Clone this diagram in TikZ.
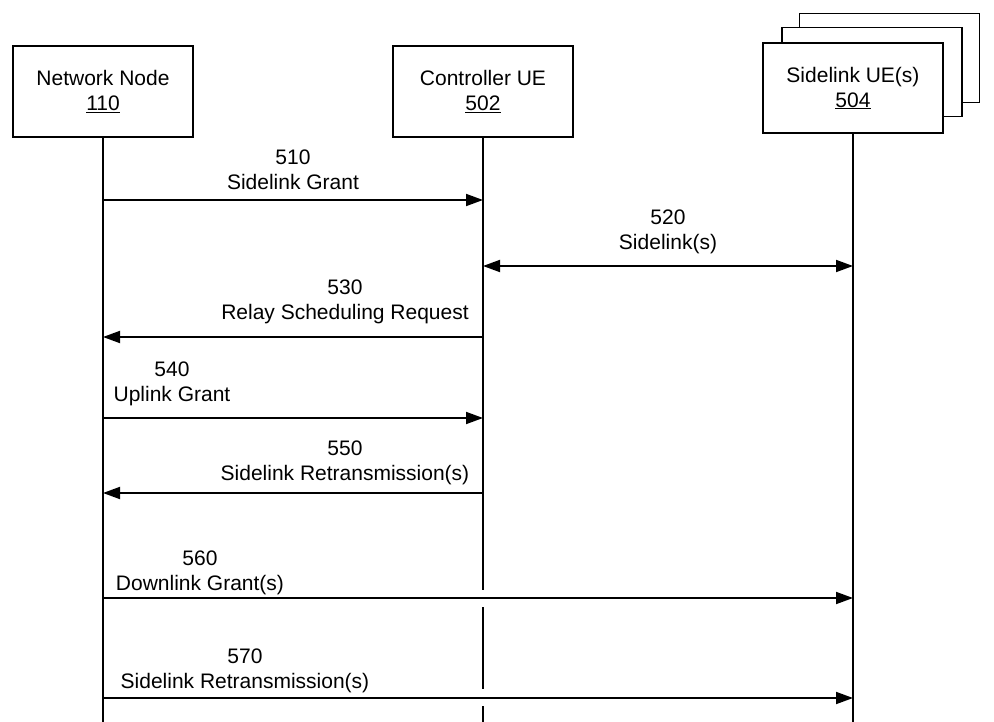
\documentclass[tikz,border=0pt]{standalone}
\usepackage{fontspec}
\setmainfont{Liberation Sans}
\usetikzlibrary{arrows.meta}
\begin{document}
\begin{tikzpicture}[x=1pt,y=-1pt,line width=1.8pt,
  box/.style={draw,fill=white,minimum width=180pt,minimum height=91pt,inner sep=0pt,align=center,font=\fontsize{21}{25}\selectfont},
  shadowbox/.style={draw,fill=white,minimum width=180pt,minimum height=89pt,inner sep=0pt},
  lbl/.style={align=center,inner sep=0pt,font=\fontsize{21}{25}\selectfont},
  msg/.style={-{Triangle[length=17pt,width=12pt]}},
  dmsg/.style={{Triangle[length=17pt,width=12pt]}-{Triangle[length=17pt,width=12pt]}},
  life/.style={line width=2pt}]
\useasboundingbox (0,0) rectangle (994,722);
% participant boxes
\node[box] (nn) at (103,91.5) {Network Node\\\underline{110}};
\node[box] (cue) at (483,91.5) {Controller UE\\\underline{502}};
\node[shadowbox] (sb3) at (889.5,58) {};
\node[shadowbox] (sb2) at (872,72) {};
\node[box,minimum height=90pt] (sue) at (853,88) {Sidelink UE(s)\\\underline{504}};
% lifeline ends
\coordinate (nnend) at (103,722);
\coordinate (sueend) at (853,722);
\coordinate (cueend) at (483,722);
% message points
\coordinate (nn510) at (103,200);  \coordinate (cue510) at (483,200);
\coordinate (cue520) at (483,266); \coordinate (sue520) at (853,266);
\coordinate (cue530) at (483,337); \coordinate (nn530) at (103,337);
\coordinate (nn540) at (103,418);  \coordinate (cue540) at (483,418);
\coordinate (cue550) at (483,493); \coordinate (nn550) at (103,493);
\coordinate (nn560) at (103,598);  \coordinate (sue560) at (853,598);
\coordinate (nn570) at (103,698);  \coordinate (sue570) at (853,698);
\coordinate (g1a) at (483,590); \coordinate (g1b) at (483,607);
\coordinate (g2a) at (483,689); \coordinate (g2b) at (483,706);
% lifelines
\draw[life] (nn.south) -- (nnend);
\draw[life] (sue.south) -- (sueend);
\draw[life] (cue.south) -- (g1a);
\draw[life] (g1b) -- (g2a);
\draw[life] (g2b) -- (cueend);
% messages
\draw[msg] (nn510) -- (cue510);
\draw[dmsg] (cue520) -- (sue520);
\draw[msg] (cue530) -- (nn530);
\draw[msg] (nn540) -- (cue540);
\draw[msg] (cue550) -- (nn550);
\draw[msg] (nn560) -- (sue560);
\draw[msg] (nn570) -- (sue570);
% labels
\node[lbl] (l510) at (293,170) {510\\Sidelink Grant};
\node[lbl] (l520) at (668,232) {520\\Sidelink(s)};
\node[lbl] (l530) at (345,302) {530\\Relay Scheduling Request};
\node[lbl] (l540) at (172,384) {540\\Uplink Grant};
\node[lbl] (l550) at (345,463) {550\\Sidelink Retransmission(s)};
\node[lbl] (l560) at (200,573) {560\\Downlink Grant(s)};
\node[lbl] (l570) at (245,671) {570\\Sidelink Retransmission(s)};
\end{tikzpicture}
\end{document}
